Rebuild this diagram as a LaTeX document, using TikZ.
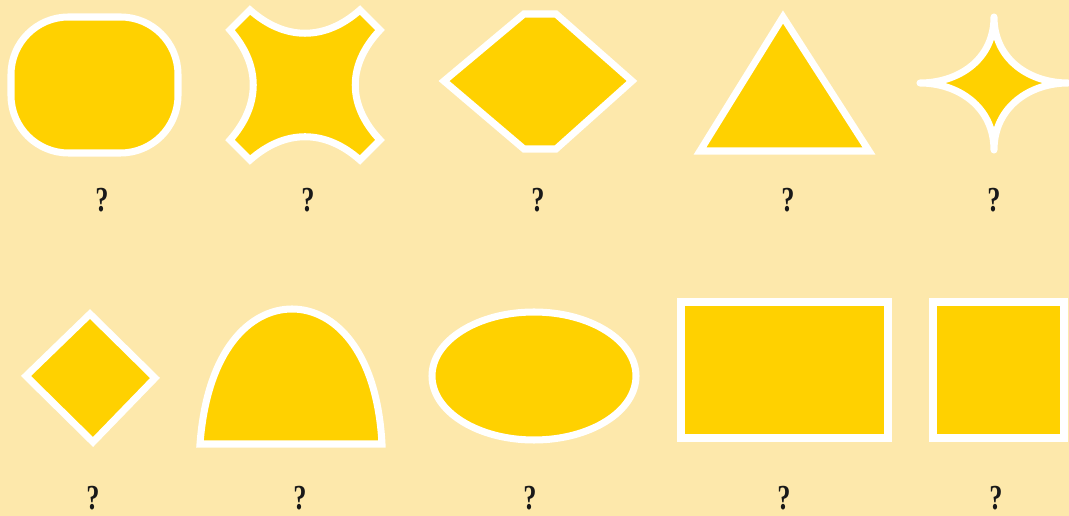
\documentclass[tikz,border=0pt]{standalone}
\usepackage{fontspec}
\usepackage{tikz}
\newfontfamily\heavyfont{Liberation Serif}

\definecolor{paper}{HTML}{FDE8AB}
\definecolor{gold}{HTML}{FFD100}

\tikzset{
    tile/.style={fill=gold,draw=white,line width=4pt,line join=miter},
    guess/.style={font=\heavyfont\bfseries\fontsize{20}{22}\selectfont,inner sep=0pt,
        text=black!90,xscale=0.75}
}

\begin{document}
\begin{tikzpicture}[x=0.02cm,y=-0.02cm]
    \fill[paper] (0,0) rectangle (1069,516);
    \useasboundingbox (0,0) rectangle (1069,516);

    % first row
    \draw[tile,rounded corners=1.15cm] (11,17) rectangle (178,153);
    \draw[tile] (250,10) .. controls (285,41) and (325,41) .. (360,10) -- (380,30)
        .. controls (347,65) and (347,105) .. (380,140) -- (360,160)
        .. controls (325,129) and (285,129) .. (250,160) -- (230,140)
        .. controls (261,105) and (261,65) .. (230,30) -- cycle;
    \draw[tile] (444,81) -- (524,14) -- (556,14) -- (632,81) -- (556,149) -- (524,149) -- cycle;
    \draw[tile] (783,17) -- (869,151) -- (700,151) -- cycle;
    \draw[tile,line join=round] (994,17) .. controls (994,60) and (1030,83) .. (1068,83)
        .. controls (1030,83) and (994,107) .. (994,150)
        .. controls (994,107) and (958,83) .. (920,83)
        .. controls (958,83) and (994,60) .. (994,17) -- cycle;

    \node[guess] (q1) at (102,200) {?};
    \node[guess] (q2) at (308,200) {?};
    \node[guess] (q3) at (538,200) {?};
    \node[guess] (q4) at (788,200) {?};
    \node[guess] (q5) at (994,200) {?};

    % second row
    \draw[tile] (90,314) -- (155,378) -- (93,442) -- (26,376) -- cycle;
    \draw[tile] (200,444) .. controls (207,350) and (250,309) .. (292,309)
        .. controls (334,309) and (377,350) .. (382,444) -- cycle;
    \draw[tile] (534,376) ellipse [x radius=102,y radius=64];
    \draw[tile] (681,302) rectangle (888,438);
    \draw[tile] (933,302) rectangle (1064,438);

    \node[guess] (q6) at (93,498) {?};
    \node[guess] (q7) at (300,498) {?};
    \node[guess] (q8) at (530,498) {?};
    \node[guess] (q9) at (784,498) {?};
    \node[guess] (q10) at (996,498) {?};
\end{tikzpicture}
\end{document}
